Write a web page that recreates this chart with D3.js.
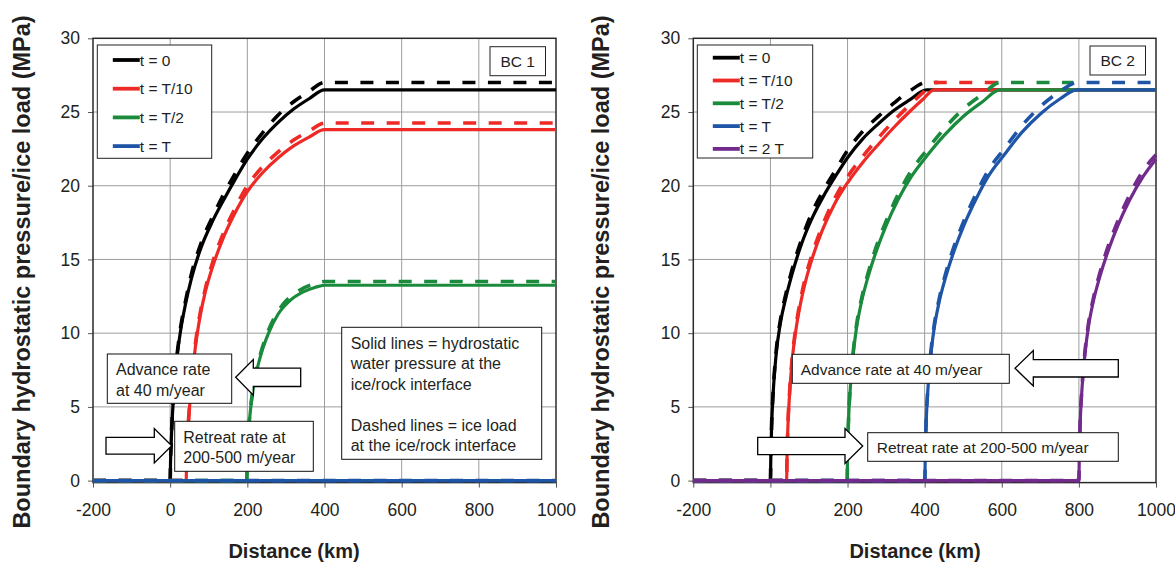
<!DOCTYPE html>
<html>
<head>
<meta charset="utf-8">
<script src="https://cdn.jsdelivr.net/npm/d3@7/dist/d3.min.js"></script>
<style>
  html, body { margin: 0; padding: 0; background: #fff; }
  svg { display: block; font-family: "Liberation Sans", Arial, sans-serif; }
</style>
</head>
<body>
<svg id="chart" width="1175" height="566"></svg>
<script>
// ---- axis ticks ----
const xTicks = [-200, 0, 200, 400, 600, 800, 1000];
const yTicks = [0, 5, 10, 15, 20, 25, 30];

// ---- series labels and colours ----
const seriesBC1 = ["t = 0", "t = T/10", "t = T/2", "t = T"];
const seriesBC2 = ["t = 0", "t = T/10", "t = T/2", "t = T", "t = 2 T"];
const seriesColors = ["#000000", "#ee2a26", "#1a8a3d", "#1f55a6", "#722a8c"];

// ---- BC 1: hydrostatic water pressure (solid), [distance km, MPa] ----
const bc1Water_t0 = [[-200,0],[0,0],[1,1.3],[3,2.8],[7,5.0],[15,7.7],[26,10.0],[40,12.0],[55,13.7],[80,15.8],[110,17.6],[140,19.1],[170,20.5],[200,21.8],[240,23.2],[280,24.3],[320,25.2],[360,25.9],[400,26.5],[1000,26.5]];
const bc1Water_t10 = [[-200,0],[41.5,0],[42.5,1.4],[45,2.9],[50,4.9],[57,7.1],[66,9.2],[78,11.2],[92,12.9],[110,14.5],[135,16.3],[165,18.0],[200,19.6],[240,20.9],[280,21.9],[320,22.7],[360,23.3],[400,23.8],[1000,23.8]];
const bc1Water_t2 = [[-200,0],[198.6,0],[199.5,1.3],[202,2.8],[207,4.5],[214,6.0],[224,7.4],[237,8.7],[255,10.0],[280,11.3],[310,12.2],[345,12.8],[375,13.1],[400,13.25],[1000,13.25]];
const bc1Water_tT = [[-200,0],[1000,0]];

// ---- BC 1: ice load (dashed) ----
const bc1Ice_t0 = [[-200,0],[0,0],[1,1.3],[3,2.9],[7,5.1],[15,7.8],[26,10.2],[40,12.2],[55,14.0],[80,16.1],[110,17.9],[140,19.5],[170,20.9],[200,22.2],[240,23.6],[280,24.8],[320,25.7],[360,26.4],[400,27],[1000,27]];
const bc1Ice_t10 = [[-200,0],[41.5,0],[42.5,1.4],[45,3.0],[50,5.0],[57,7.2],[66,9.4],[78,11.4],[92,13.1],[110,14.8],[135,16.6],[165,18.3],[200,20.0],[240,21.3],[280,22.3],[320,23.1],[360,23.7],[400,24.25],[1000,24.25]];
const bc1Ice_t2 = [[-200,0],[198.6,0],[199.5,1.3],[202,2.85],[207,4.6],[214,6.1],[224,7.55],[237,8.85],[255,10.2],[280,11.5],[310,12.45],[345,13.05],[375,13.35],[400,13.5],[1000,13.5]];
const bc1Ice_tT = [[-200,0],[1000,0]];

// ---- BC 2: hydrostatic water pressure (solid) ----
const bc2Water_t0 = [[-200,0],[0,0],[1,1.5],[3,3.6],[7,5.9],[15,8.6],[26,10.7],[40,12.4],[55,13.9],[80,16.0],[110,17.9],[140,19.4],[170,20.7],[200,21.9],[240,23.2],[280,24.2],[320,25.1],[360,25.8],[405,26.5],[1000,26.5]];
const bc2Water_t10 = [[-200,0],[42,0],[43,1.5],[45,3.4],[50,6.0],[57,8.3],[66,10.2],[78,12.0],[92,13.6],[110,15.2],[135,17.0],[165,18.7],[200,20.2],[240,21.6],[280,22.8],[320,23.95],[360,25.0],[395,25.85],[425,26.5],[1000,26.5]];
const bc2Water_t2 = [[-200,0],[199,0],[200,1.5],[202,3.6],[207,6.2],[214,8.4],[223,10.3],[236,12.1],[253,13.8],[275,15.6],[300,17.3],[330,19.0],[365,20.6],[405,22.0],[450,23.4],[500,24.7],[550,25.7],[595,26.5],[1000,26.5]];
const bc2Water_tT = [[-200,0],[400.5,0],[401.5,1.5],[403.5,3.6],[408.5,6.2],[415.5,8.4],[424.5,10.3],[437.5,12.1],[454.5,13.8],[476.5,15.6],[501.5,17.3],[531.5,19.0],[566.5,20.7],[606.5,22.1],[651.5,23.6],[701.5,24.9],[751.5,25.9],[795,26.5],[1000,26.5]];
const bc2Water_t2T = [[-200,0],[800,0],[801,1.5],[803,3.6],[808,6.2],[815,8.4],[824,10.3],[837,12.1],[854,13.8],[876,15.6],[901,17.3],[931,19.0],[966,20.6],[1000,21.8]];

// ---- BC 2: ice load (dashed) ----
const bc2Ice_t0 = [[-200,0],[0,0],[1,1.55],[3,3.7],[7,6.0],[15,8.8],[26,10.9],[40,12.65],[55,14.2],[80,16.3],[110,18.3],[140,19.8],[170,21.1],[200,22.4],[240,23.7],[280,24.7],[320,25.6],[360,26.4],[405,27],[435,27]];
const bc2Ice_t10 = [[-200,0],[42,0],[43,1.5],[45,3.5],[50,6.1],[57,8.45],[66,10.4],[78,12.25],[92,13.9],[110,15.5],[135,17.3],[165,19.05],[200,20.6],[240,22.0],[280,23.25],[320,24.4],[360,25.45],[395,26.3],[425,27],[590,27]];
const bc2Ice_t2 = [[-200,0],[199,0],[200,1.5],[202,3.7],[207,6.3],[214,8.55],[223,10.5],[236,12.3],[253,14.05],[275,15.9],[300,17.6],[330,19.35],[365,21.0],[405,22.4],[450,23.85],[500,25.2],[550,26.2],[595,27],[785,27]];
const bc2Ice_tT = [[-200,0],[400.5,0],[401.5,1.5],[403.5,3.7],[408.5,6.3],[415.5,8.55],[424.5,10.5],[437.5,12.3],[454.5,14.05],[476.5,15.9],[501.5,17.6],[531.5,19.35],[566.5,21.1],[606.5,22.5],[651.5,24.05],[701.5,25.4],[751.5,26.4],[795,27],[1000,27]];
const bc2Ice_t2T = [[-200,0],[800,0],[801,1.5],[803,3.7],[808,6.3],[815,8.55],[824,10.5],[837,12.3],[854,14.05],[876,15.9],[901,17.6],[931,19.35],[966,21.0],[1000,22.1]];

const svg = d3.select("#chart");
const FONT = '"Liberation Sans", Arial, sans-serif';
const plotTop = 38.3, plotBottom = 480.6, frameBottom = 482.6;

function blockArrow(g, tipX, tipY, dir, headLen, headHalf, shaftHalf, shaftLen) {
  // dir: -1 points left, +1 points right
  const hb = tipX - dir * headLen;
  const se = hb - dir * shaftLen;
  const pts = [[tipX, tipY], [hb, tipY - headHalf], [hb, tipY - shaftHalf], [se, tipY - shaftHalf],
               [se, tipY + shaftHalf], [hb, tipY + shaftHalf], [hb, tipY + headHalf]];
  g.append("path")
    .attr("d", d3.line()(pts) + "Z")
    .attr("fill", "#fff").attr("stroke", "#000").attr("stroke-width", 1.3)
    .attr("stroke-linejoin", "miter");
}

function textBox(g, x, y, w, h, lines, tx, ty, lh, fs) {
  g.append("rect").attr("x", x).attr("y", y).attr("width", w).attr("height", h)
    .attr("fill", "#fff").attr("stroke", "#111").attr("stroke-width", 1);
  const t = g.append("text").attr("font-size", fs).attr("fill", "#231f20");
  lines.forEach((s, i) => {
    t.append("tspan").attr("x", tx).attr("y", ty + i * lh).text(s);
  });
}

function drawPanel(cfg) {
  const g = svg.append("g");
  const x = d3.scaleLinear().domain([-200, 1000]).range([cfg.left, cfg.right]);
  const y = d3.scaleLinear().domain([0, 30]).range([plotBottom, plotTop]);

  // grid
  g.append("g").selectAll("line").data(xTicks.slice(1, -1)).join("line")
    .attr("x1", d => x(d)).attr("x2", d => x(d)).attr("y1", plotTop).attr("y2", frameBottom)
    .attr("stroke", "#9d9d9d").attr("stroke-width", 1);
  g.append("g").selectAll("line").data(yTicks.slice(1, -1)).join("line")
    .attr("y1", d => y(d)).attr("y2", d => y(d)).attr("x1", cfg.left).attr("x2", cfg.right)
    .attr("stroke", "#9d9d9d").attr("stroke-width", 1);

  // axes
  const ax = g.append("g").attr("transform", `translate(0,${frameBottom})`)
    .call(d3.axisBottom(x).tickValues(xTicks).tickSize(5).tickPadding(16).tickFormat(d => String(d)));
  const ay = g.append("g").attr("transform", `translate(${cfg.left},0)`)
    .call(d3.axisLeft(y).tickValues(yTicks).tickSize(5).tickPadding(8).tickFormat(d => String(d)));
  [ax, ay].forEach(a => {
    a.select(".domain").remove();
    a.selectAll(".tick line").attr("stroke", "#555");
    a.selectAll(".tick text").attr("font-family", FONT).attr("font-size", 17.5).attr("fill", "#231f20");
  });
  ax.selectAll(".tick text").attr("dy", "0.71em");

  // frame
  g.append("rect").attr("x", cfg.left).attr("y", plotTop)
    .attr("width", cfg.right - cfg.left).attr("height", frameBottom - plotTop)
    .attr("fill", "none").attr("stroke", "#2a2a2a").attr("stroke-width", 1.5);

  // curves: solid = water pressure, dashed = ice load (later series drawn on top)
  const line = d3.line().x(d => x(d[0])).y(d => y(d[1])).curve(d3.curveMonotoneX);
  const lines = g.append("g");
  cfg.water.forEach((s, i) => {
    lines.append("path").datum(s).attr("d", line)
      .attr("fill", "none").attr("stroke", seriesColors[i]).attr("stroke-width", 3.2)
      .attr("stroke-linejoin", "round");
    lines.append("path").datum(cfg.ice[i]).attr("d", line)
      .attr("fill", "none").attr("stroke", seriesColors[i]).attr("stroke-width", 3.6)
      .attr("stroke-dasharray", "13,12.5").attr("stroke-linejoin", "round");
  });

  // legend
  const lg = g.append("g");
  lg.append("rect").attr("x", cfg.legend.x).attr("y", cfg.legend.y)
    .attr("width", cfg.legend.w).attr("height", cfg.legend.h)
    .attr("fill", "#fff").attr("stroke", "#222").attr("stroke-width", 1);
  cfg.names.forEach((n, i) => {
    const ry = cfg.legend.row0 + i * cfg.legend.step;
    lg.append("line").attr("x1", cfg.legend.x + 15.5).attr("x2", cfg.legend.x + 42.5)
      .attr("y1", ry).attr("y2", ry).attr("stroke", seriesColors[i]).attr("stroke-width", 3.8);
    lg.append("text").attr("x", cfg.legend.x + 42.5).attr("y", ry + 5.5)
      .attr("font-size", 15.5).attr("fill", "#231f20").text(n);
  });

  // case label box
  g.append("rect").attr("x", cfg.bc.x).attr("y", cfg.bc.y).attr("width", 55.5).attr("height", 29)
    .attr("fill", "#fff").attr("stroke", "#222").attr("stroke-width", 1);
  g.append("text").attr("x", cfg.bc.x + 27.75).attr("y", cfg.bc.y + 20).attr("text-anchor", "middle")
    .attr("font-size", 15.5).attr("fill", "#231f20").text(cfg.bc.label);

  // axis titles
  g.append("text").attr("x", cfg.xTitleX).attr("y", 558).attr("text-anchor", "middle")
    .attr("font-size", 20).attr("font-weight", "bold").attr("fill", "#231f20").text("Distance (km)");
  g.append("text").attr("transform", `translate(${cfg.yTitleX},272) rotate(-90)`)
    .attr("text-anchor", "middle").attr("font-size", 23.5).attr("font-weight", "bold")
    .attr("fill", "#231f20").text("Boundary hydrostatic pressure/ice load (MPa)");

  return g;
}

// ---- left panel: BC 1 ----
const g1 = drawPanel({
  id: 1, left: 93, right: 556, names: seriesBC1,
  water: [bc1Water_t0, bc1Water_t10, bc1Water_t2, bc1Water_tT],
  ice: [bc1Ice_t0, bc1Ice_t10, bc1Ice_t2, bc1Ice_tT],
  legend: { x: 97.3, y: 45, w: 114.4, h: 113.3, row0: 60, step: 28.7 },
  bc: { x: 490, y: 46.7, label: "BC 1" },
  xTitleX: 294, yTitleX: 30
});
textBox(g1, 107.3, 354, 124.4, 49.3, ["Advance rate", "at 40 m/year"], 116, 375, 20.7, 16);
blockArrow(g1, 235.7, 377.3, -1, 17.6, 17.8, 9.2, 47.4);
blockArrow(g1, 171.7, 445.7, 1, 17.4, 17.2, 8.4, 48.3);
textBox(g1, 174.7, 421.3, 138.6, 50, ["Retreat rate at", "200-500 m/year"], 183.3, 442.5, 20.7, 16);
textBox(g1, 341.7, 327.3, 200, 132, ["Solid lines = hydrostatic", "water pressure at the", "ice/rock interface", "", "Dashed lines = ice load", "at the ice/rock interface"], 350.7, 348.5, 20.5, 16);

// ---- right panel: BC 2 ----
const g2 = drawPanel({
  id: 2, left: 693.3, right: 1156, names: seriesBC2,
  water: [bc2Water_t0, bc2Water_t10, bc2Water_t2, bc2Water_tT, bc2Water_t2T],
  ice: [bc2Ice_t0, bc2Ice_t10, bc2Ice_t2, bc2Ice_tT, bc2Ice_t2T],
  legend: { x: 697.3, y: 45, w: 115.4, h: 113, row0: 57.7, step: 22.8 },
  bc: { x: 1090, y: 46, label: "BC 2" },
  xTitleX: 915, yTitleX: 609
});
textBox(g2, 792.3, 354.3, 217, 29, ["Advance rate at 40 m/year"], 800.7, 375, 20, 15.5);
blockArrow(g2, 1015, 368.3, -1, 18.3, 17.7, 8.7, 85);
blockArrow(g2, 862.7, 446, 1, 17.7, 17.5, 8.7, 87.3);
textBox(g2, 867.7, 432.7, 250.6, 28.6, ["Retreat rate at 200-500 m/year"], 876.7, 453, 20, 15.5);
</script>
</body>
</html>
